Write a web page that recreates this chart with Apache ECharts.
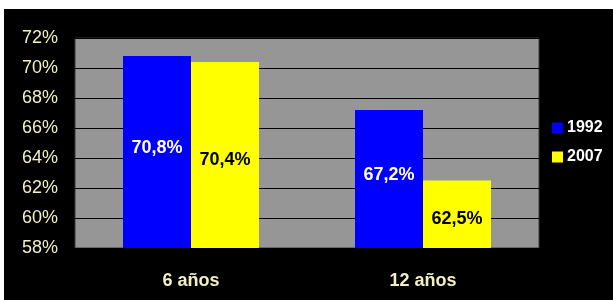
<!DOCTYPE html>
<html>
<head>
<meta charset="utf-8">
<script src="https://cdn.jsdelivr.net/npm/echarts@6/dist/echarts.min.js"></script>
<style>
html,body{margin:0;padding:0;background:#fff;width:613px;height:300px;overflow:hidden;}
#c{position:absolute;left:4px;top:9px;width:609px;height:291px;background:#000;}
</style>
</head>
<body>
<div id="c"></div>
<script>
const categories = ['6 años', '12 años'];
const seriesNames = ['1992', '2007'];
const values1992 = [70.8, 67.2];
const values2007 = [70.4, 62.5];
const yTicks = [58, 60, 62, 64, 66, 68, 70, 72];

const chart = echarts.init(document.getElementById('c'), null, {renderer: 'canvas'});
const fmt = v => String(v.toFixed(1)).replace('.', ',') + '%';
chart.setOption({
  backgroundColor: '#000',
  animation: false,
  grid: {left: 71, right: 74, top: 29, bottom: 52, show: true, backgroundColor: '#969696', borderColor: '#3a3a3a', borderWidth: 1},
  legend: {
    orient: 'vertical', left: 543, top: 106,
    itemWidth: 11, itemHeight: 11, itemGap: 13,
    icon: 'rect',
    textStyle: {color: '#fff', fontFamily: 'Liberation Sans, Arial', fontWeight: 'bold', fontSize: 16, padding: [0, 0, 0, -1]},
    data: seriesNames
  },
  xAxis: {
    type: 'category', data: categories,
    axisLine: {show: false}, axisTick: {show: false},
    axisLabel: {color: '#F2EFC0', fontFamily: 'Liberation Sans, Arial', fontWeight: 'bold', fontSize: 18, margin: 24}
  },
  yAxis: {
    type: 'value', min: yTicks[0], max: yTicks[yTicks.length - 1], interval: 2,
    axisLine: {show: false}, axisTick: {show: false},
    splitLine: {lineStyle: {color: '#000', width: 1}},
    axisLabel: {color: '#F2EFC0', fontFamily: 'Liberation Sans, Arial', fontSize: 18, margin: 17, formatter: v => v + '%'}
  },
  series: [
    {
      name: seriesNames[0], type: 'bar', data: values1992, barWidth: 68, barGap: '0%',
      itemStyle: {color: '#0000FF'},
      label: {show: true, position: 'inside', offset: [0, -4], color: '#fff', fontFamily: 'Liberation Sans, Arial', fontWeight: 'bold', fontSize: 18, formatter: p => fmt(p.value)}
    },
    {
      name: seriesNames[1], type: 'bar', data: values2007, barWidth: 68,
      itemStyle: {color: '#FFFF00'},
      label: {show: true, position: 'inside', offset: [0, 5], color: '#000', fontFamily: 'Liberation Sans, Arial', fontWeight: 'bold', fontSize: 18, formatter: p => fmt(p.value)}
    }
  ]
});
</script>
</body>
</html>
